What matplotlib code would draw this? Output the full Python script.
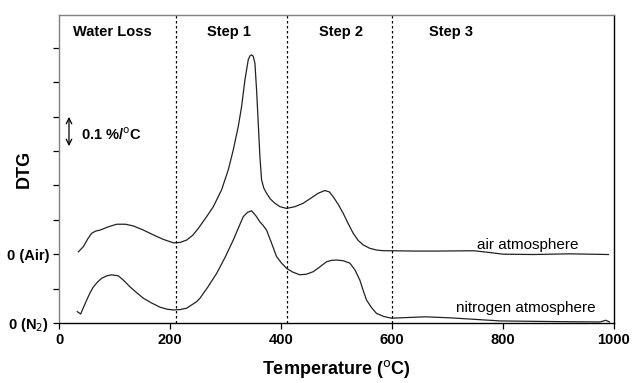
"""DTG curves of a sample under air and nitrogen atmosphere."""
import matplotlib
matplotlib.use("Agg")
import matplotlib.pyplot as plt

plt.rcParams["font.family"] = ["Liberation Sans", "DejaVu Sans"]

# Temperature (degC) and DTG value (%/degC, air curve offset by 0.2)
air_temp = [35, 44, 52, 59, 66, 74, 88, 104, 120, 134, 152, 170, 188, 206, 218, 230,
            241, 251, 266, 278, 293, 305, 314, 323, 329, 335, 341, 344, 347, 350, 353,
            356, 359, 362, 365, 369, 374, 381, 389, 398, 410, 425, 440, 455, 467, 479,
            487, 494, 503, 512, 521, 530, 539, 548, 560, 572, 585, 599, 640, 680, 747,
            775, 800, 855, 920, 990]
air_dtg = [0.207, 0.222, 0.245, 0.261, 0.267, 0.27, 0.279, 0.287, 0.287, 0.282, 0.27,
           0.256, 0.243, 0.233, 0.234, 0.241, 0.255, 0.275, 0.309, 0.338, 0.387, 0.445,
           0.503, 0.571, 0.629, 0.706, 0.765, 0.776, 0.779, 0.775, 0.755, 0.677, 0.581,
           0.483, 0.416, 0.392, 0.377, 0.36, 0.348, 0.338, 0.333, 0.338, 0.348, 0.364,
           0.377, 0.385, 0.381, 0.367, 0.345, 0.319, 0.289, 0.261, 0.24, 0.227, 0.217,
           0.212, 0.21, 0.21, 0.209, 0.209, 0.21, 0.205, 0.2, 0.199, 0.201, 0.199]

n2_temp = [33, 39, 44, 50, 56, 62, 70, 77, 86, 95, 107, 117, 128, 140, 152, 167, 182,
           195, 206, 218, 230, 248, 254, 268, 284, 299, 314, 324, 332, 340, 347, 355,
           362, 368, 374, 383, 392, 401, 410, 421, 434, 446, 458, 470, 482, 491, 500,
           512, 524, 533, 542, 548, 554, 563, 572, 585, 599, 660, 705, 795, 900, 975,
           985, 992]
n2_dtg = [0.033, 0.026, 0.045, 0.067, 0.088, 0.105, 0.12, 0.13, 0.137, 0.14, 0.137,
          0.123, 0.105, 0.088, 0.072, 0.058, 0.046, 0.04, 0.038, 0.039, 0.043, 0.062,
          0.072, 0.104, 0.144, 0.19, 0.241, 0.279, 0.309, 0.322, 0.326, 0.311, 0.294,
          0.283, 0.27, 0.232, 0.193, 0.174, 0.159, 0.148, 0.14, 0.142, 0.149, 0.163,
          0.178, 0.182, 0.183, 0.181, 0.174, 0.155, 0.125, 0.095, 0.067, 0.045, 0.028,
          0.019, 0.014, 0.018, 0.015, 0.006, 0.004, 0.003, 0.008, 0.003]

step_bounds = [210, 410, 600]
step_names = ["Water Loss", "Step 1", "Step 2", "Step 3"]
step_label_x = [97, 307, 508, 706]

y_ticks = [0.0, 0.1, 0.2, 0.3, 0.4, 0.5, 0.6, 0.7, 0.8]
y_tick_labels = ["0 (N$_2$)", "", "0 (Air)", "", "", "", "", "", ""]
x_ticks = [0, 200, 400, 600, 800, 1000]

fig = plt.figure(figsize=(6.35, 3.83), dpi=100)
ax = fig.add_axes([59 / 635, 1 - 323 / 383, 555 / 635, 308 / 383])

ax.plot(air_temp, air_dtg, color="#222222", linewidth=0.9)
ax.plot(n2_temp, n2_dtg, color="#222222", linewidth=0.9)

for bound in step_bounds:
    ax.axvline(bound, color="black", linestyle=(0, (2, 2)), linewidth=0.9)

for name, x in zip(step_names, step_label_x):
    ax.text(x, 0.845, name, ha="center", va="center", fontsize=10.5, fontweight="bold")

ax.text(844, 0.226, "air atmosphere", ha="center", va="center", fontsize=11)
ax.text(842, 0.043, "nitrogen atmosphere", ha="center", va="center", fontsize=11)

# scale bar
ax.annotate("", xy=(18, 0.599), xytext=(18, 0.514),
            arrowprops=dict(arrowstyle="<->", color="black", lw=0.9,
                            shrinkA=0, shrinkB=0))
ax.text(40, 0.548, "0.1 %/$^{\\rm o}$C", ha="left", va="center", fontsize=10.5,
        fontweight="bold")

ax.set_xlim(0, 1000)
ax.set_ylim(0, 0.895)
ax.set_xticks(x_ticks)
ax.set_xticklabels([str(t) for t in x_ticks], fontsize=10.5, fontweight="bold")
ax.set_yticks(y_ticks)
ax.set_yticklabels(y_tick_labels, fontsize=10.5, fontweight="bold")
ax.tick_params(axis="both", direction="out", length=4, width=0.9, pad=3)

ax.set_xlabel("Temperature ($^{\\rm o}$C)", fontsize=13, fontweight="bold", labelpad=8)
ax.set_ylabel("DTG", fontsize=13, fontweight="bold")
ax.yaxis.set_label_coords(-0.047, 0.5)

for side in ["top", "left"]:
    ax.spines[side].set_color("#808080")
for side in ["bottom", "right"]:
    ax.spines[side].set_color("black")
for spine in ax.spines.values():
    spine.set_linewidth(1.0)

fig.savefig("out.png", dpi=100)
